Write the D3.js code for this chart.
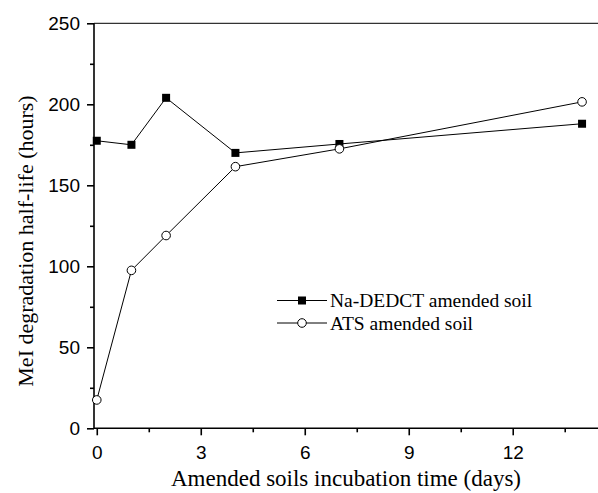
<!DOCTYPE html>
<html><head><meta charset="utf-8">
<script src="https://cdn.jsdelivr.net/npm/d3@7"></script>
<style>body{margin:0;background:#fff}svg{display:block}</style>
</head><body>
<script>
const days = [0, 1, 2, 4, 7, 14];
const naDEDCT = [177.5, 175, 204, 170, 175.5, 188];
const ats = [17.5, 97.5, 119, 161.5, 172.5, 201.5];
const xTicks = [0, 3, 6, 9, 12];
const yTicks = [0, 50, 100, 150, 200, 250];
const seriesNames = ["Na-DEDCT amended soil", "ATS amended soil"];

const W = 598, H = 493;
const svg = d3.select("body").append("svg").attr("width", W).attr("height", H);
const x = d3.scaleLinear().domain([-0.08, 14.46]).range([94, 598]);
const y = d3.scaleLinear().domain([0, 250]).range([428.3, 23.3]);

// top frame line
svg.append("line").attr("x1", 94).attr("x2", 598).attr("y1", y(250)).attr("y2", y(250))
  .attr("stroke", "#333").attr("stroke-width", 1.2);

const tickFont = "'Liberation Sans', Arial, sans-serif";
const xAxis = svg.append("g").attr("transform", `translate(0,${y(0)})`)
  .call(d3.axisBottom(x).tickValues(xTicks).tickSize(7).tickPadding(10).tickFormat(d3.format("d")));
const xMinor = svg.append("g").attr("transform", `translate(0,${y(0)})`)
  .call(d3.axisBottom(x).tickValues(d3.range(1.5, 14.5, 3)).tickSize(4).tickFormat(""));
xMinor.select(".domain").remove();
const yAxis = svg.append("g").attr("transform", `translate(94,0)`)
  .call(d3.axisLeft(y).tickValues(yTicks).tickSize(7).tickPadding(7));
const yMinor = svg.append("g").attr("transform", `translate(94,0)`)
  .call(d3.axisLeft(y).tickValues(d3.range(25, 250, 50)).tickSize(4).tickFormat(""));
yMinor.select(".domain").remove();
[xAxis, yAxis, xMinor, yMinor].forEach(g => {
  g.selectAll("path,line").attr("stroke", "#000").attr("stroke-width", 1.6);
  g.selectAll("text").attr("font-family", tickFont).attr("font-size", 19).attr("fill", "#000");
});
xAxis.select(".domain").attr("d", `M94,0H598`);
yAxis.select(".domain").attr("d", `M0,${y(0)}V${y(250)}`);

const titleFont = "'Liberation Serif', 'Times New Roman', serif";
svg.append("text").attr("x", 346).attr("y", 486).attr("text-anchor", "middle")
  .attr("font-family", titleFont).attr("font-size", 23).text("Amended soils incubation time (days)");
svg.append("text").attr("transform", `translate(33,241) rotate(-90)`).attr("text-anchor", "middle")
  .attr("font-family", titleFont).attr("font-size", 22).text("MeI degradation half-life (hours)");

const line = d3.line().x((d, i) => x(days[i])).y(d => y(d));
svg.append("path").datum(naDEDCT).attr("d", line).attr("fill", "none").attr("stroke", "#000").attr("stroke-width", 1);
svg.append("path").datum(ats).attr("d", line).attr("fill", "none").attr("stroke", "#000").attr("stroke-width", 1);

const sq = 8;
svg.selectAll(".sq").data(naDEDCT).enter().append("rect")
  .attr("x", (d, i) => x(days[i]) - sq / 2).attr("y", d => y(d) - sq / 2)
  .attr("width", sq).attr("height", sq).attr("fill", "#000");
svg.selectAll(".ci").data(ats).enter().append("circle")
  .attr("cx", (d, i) => x(days[i])).attr("cy", d => y(d)).attr("r", 4.3)
  .attr("fill", "#fff").attr("stroke", "#000").attr("stroke-width", 1);

// legend
const leg = svg.append("g");
const rows = [300.5, 323];
seriesNames.forEach((name, i) => {
  leg.append("line").attr("x1", 277).attr("x2", 327).attr("y1", rows[i]).attr("y2", rows[i]).attr("stroke", "#000").attr("stroke-width", 1);
  if (i === 0) leg.append("rect").attr("x", 302 - sq / 2).attr("y", rows[i] - sq / 2).attr("width", sq).attr("height", sq).attr("fill", "#000");
  else leg.append("circle").attr("cx", 302).attr("cy", rows[i]).attr("r", 4.3).attr("fill", "#fff").attr("stroke", "#000");
  leg.append("text").attr("x", 330).attr("y", rows[i] + 6.5).attr("font-family", titleFont).attr("font-size", 19.5).text(name);
});
</script>
</body></html>
